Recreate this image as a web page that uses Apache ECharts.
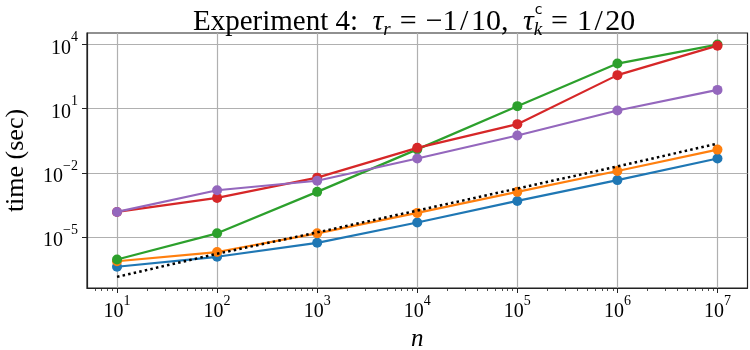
<!DOCTYPE html>
<html><head><meta charset="utf-8">
<script src="https://cdn.jsdelivr.net/npm/echarts@6/dist/echarts.min.js"></script>
<style>html,body{margin:0;padding:0;background:#fff}#c{width:750px;height:350px}</style>
</head><body><div id="c"></div>
<script>
// ---- data (seconds) ----
const nValues = [1e1, 1e2, 1e3, 1e4, 1e5, 1e6, 1e7];
const blueTimes   = [4.1e-7, 1.2e-6, 5.4e-6, 4.8e-5, 4.9e-4, 4.6e-3, 4.7e-2];
const orangeTimes = [7.4e-7, 2.0e-6, 1.5e-5, 1.35e-4, 1.3e-3, 1.23e-2, 0.123];
const greenTimes  = [8.9e-7, 1.5e-5, 1.3e-3, 0.126, 13.2, 1290, 10000];
const redTimes    = [1.5e-4, 6.8e-4, 6.0e-3, 0.148, 1.9, 372, 8900];
const purpleTimes = [1.5e-4, 1.55e-3, 4.3e-3, 0.047, 0.56, 8.3, 76];
const refTimes    = [1.38e-7, 1.66e-6, 1.66e-5, 1.74e-4, 1.86e-3, 2.0e-2, 0.234];
const xTickValues = [1e1, 1e2, 1e3, 1e4, 1e5, 1e6, 1e7];
const yTickValues = [1e-5, 1e-2, 1e1, 1e4];
const xMin = Math.pow(10, 0.7), xMax = Math.pow(10, 7.3);
const yMin = Math.pow(10, -7.38), yMax = Math.pow(10, 4.54);
const xMinorTicks = [];
for (let e = 0; e <= 7; e++) for (let k = 2; k <= 9; k++) {
  const v = k * Math.pow(10, e);
  if (v > xMin && v < xMax) xMinorTicks.push(v);
}

const FONT = 'Liberation Serif';
const TITLE_LEFT = 188;
const pair = (ys) => nValues.map((n, i) => [n, ys[i]]);
const supFmt = (v) => {
  const e = Math.round(Math.log10(v));
  return '{b|10}{s|' + (e < 0 ? '\u2212' + (-e) : e) + '}';
};
const labelRich = {
  b: {fontFamily: FONT, fontSize: 20, color: '#000', verticalAlign: 'bottom', lineHeight: 28},
  s: {fontFamily: FONT, fontSize: 14, color: '#000', verticalAlign: 'top', lineHeight: 14}
};
const mk = (name, color, ys, z) => ({
  name, type: 'line', data: pair(ys), z,
  symbol: 'circle', symbolSize: 10, showSymbol: true,
  itemStyle: {color}, lineStyle: {color, width: 2.2}
});

// measure where the second tau ends so the sans-serif "c" sits above its subscript k
const mctx = document.createElement('canvas').getContext('2d');
const tw = (font, s) => { mctx.font = font; return mctx.measureText(s).width; };
const F = '"Liberation Serif"';
const EQ_PAD = 9;
const kX = TITLE_LEFT + tw('29px ' + F, 'Experiment 4:  ') + tw('italic 30px ' + F, '\u03c4') +
  tw('italic 19px ' + F, 'r') + tw('30px ' + F, '=') + 2 * EQ_PAD + tw('30px ' + F, '\u22121\u200a/\u200a10,') +
  tw('29px ' + F, '  ') + tw('italic 30px ' + F, '\u03c4') + 6;

const chart = echarts.init(document.getElementById('c'), null, {renderer: 'canvas'});
chart.setOption({
  animation: false,
  backgroundColor: '#fff',
  title: {
    text: 'Experiment 4:  {i|\u03c4}{sub|r}{eq|=}{m|\u22121\u200a/\u200a10,}  {i|\u03c4}{sub|k}{eq|=}{m|1\u200a/\u200a20}',
    left: TITLE_LEFT, top: 0,
    textStyle: {
      fontFamily: FONT, fontSize: 29, fontWeight: 'normal', color: '#000', lineHeight: 34,
      rich: {
        i: {fontFamily: FONT, fontSize: 30, fontStyle: 'italic', color: '#000', lineHeight: 34},
        sub: {fontFamily: FONT, fontSize: 19, fontStyle: 'italic', color: '#000', verticalAlign: 'bottom', lineHeight: 24},
        eq: {fontFamily: FONT, fontSize: 30, color: '#000', padding: [0, EQ_PAD, 0, EQ_PAD], lineHeight: 34},
        m: {fontFamily: FONT, fontSize: 30, color: '#000', lineHeight: 34}
      }
    }
  },
  graphic: [{type: 'text', left: kX, top: 3, z: 10,
    style: {text: 'c', fontFamily: 'DejaVu Sans', fontSize: 14, fill: '#000'}}],
  grid: {left: 87, right: 2.5, top: 33, bottom: 62, containLabel: false, outerBoundsMode: 'none',
    show: true, borderColor: '#222', borderWidth: 1.2, backgroundColor: 'transparent'},
  xAxis: [{
    type: 'log', logBase: 10, min: xMin, max: xMax,
    name: 'n', nameLocation: 'middle', nameGap: 36,
    nameTextStyle: {fontFamily: FONT, fontSize: 25, fontStyle: 'italic', color: '#000'},
    axisLine: {show: true, lineStyle: {color: '#222', width: 1.2}},
    axisTick: {show: true, length: 5, lineStyle: {color: '#222', width: 1}, customValues: xTickValues},
    axisLabel: {customValues: xTickValues, formatter: supFmt, rich: labelRich, margin: 6},
    splitLine: {show: true, lineStyle: {color: '#b0b0b0', width: 1.2}},
    minorTick: {show: false}
  }, {
    type: 'log', logBase: 10, min: xMin, max: xMax, position: 'bottom',
    axisLine: {show: false},
    axisTick: {show: true, length: 3, lineStyle: {color: '#222', width: 0.8}, customValues: xMinorTicks},
    axisLabel: {show: false},
    splitLine: {show: false}
  }],
  yAxis: {
    type: 'log', logBase: 10, min: yMin, max: yMax,
    name: 'time (sec)', nameLocation: 'middle', nameGap: 58,
    nameTextStyle: {fontFamily: FONT, fontSize: 26, color: '#000'},
    axisLine: {show: true, lineStyle: {color: '#222', width: 1.2}},
    axisTick: {show: true, length: 5, lineStyle: {color: '#222', width: 1}, customValues: yTickValues},
    axisLabel: {customValues: yTickValues, formatter: supFmt, rich: labelRich, margin: 9},
    splitLine: {show: true, lineStyle: {color: '#b0b0b0', width: 1.2}},
    minorTick: {show: false}
  },
  series: [
    mk('blue', '#1f77b4', blueTimes, 2),
    mk('orange', '#ff7f0e', orangeTimes, 3),
    mk('green', '#2ca02c', greenTimes, 4),
    mk('red', '#d62728', redTimes, 5),
    mk('purple', '#9467bd', purpleTimes, 6),
    {name: 'ref', type: 'line', data: pair(refTimes), z: 7, symbol: 'none',
     lineStyle: {color: '#000', width: 2.5, type: [2.5, 3.2], cap: 'butt'}}
  ]
});
</script></body></html>
